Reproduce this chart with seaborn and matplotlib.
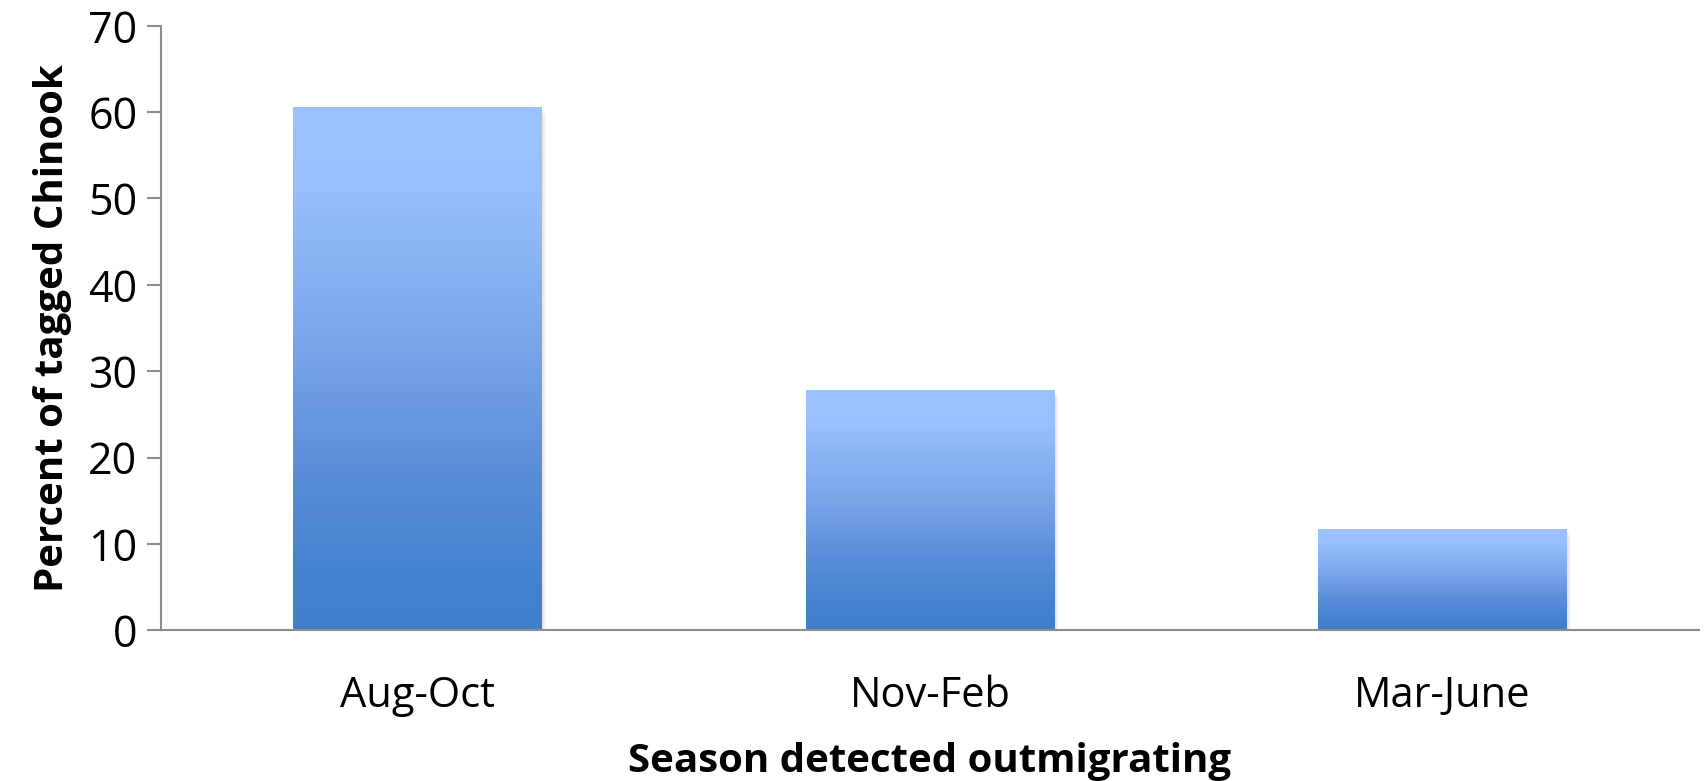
import numpy as np
import pandas as pd
import matplotlib
matplotlib.use("Agg")
import matplotlib.pyplot as plt
import seaborn as sns
from matplotlib.colors import LinearSegmentedColormap

seasons = ["Aug-Oct", "Nov-Feb", "Mar-June"]
percents = [60.6, 27.8, 11.7]
y_ticks = [0, 10, 20, 30, 40, 50, 60, 70]

sns.set_style("white")
plt.rcParams["font.family"] = ["Open Sans", "DejaVu Sans"]

df = pd.DataFrame({"season": seasons, "percent": percents})

fig = plt.figure(figsize=(17.04, 7.81), dpi=100)
ax = fig.add_axes([0.0945, 0.193, 0.9025, 0.774])

sns.barplot(data=df, x="season", y="percent", color="#6a9be0", width=0.485, ax=ax)

# gradient fill for each bar: light blue at top, darker at the base
cmap = LinearSegmentedColormap.from_list(
    "bar",
    [(0.0, "#3f7fce"), (0.08, "#4181cf"), (0.3, "#5a8dd9"),
     (0.55, "#7aa6e9"), (0.85, "#99bffd"), (1.0, "#9cc2ff")])
grad = np.linspace(0, 1, 256).reshape(-1, 1)
for patch in list(ax.patches):
    x0, y0 = patch.get_x(), patch.get_y()
    w, h = patch.get_width(), patch.get_height()
    patch.set_facecolor("none")
    patch.set_edgecolor("none")
    # soft shadow
    for k, a in [(0.006, 0.05), (0.003, 0.06)]:
        ax.bar(x0 + w / 2 + k, h, width=w, bottom=y0 - 0.35 * k / 0.003,
               color="#000000", alpha=a, zorder=1)
    im = ax.imshow(grad, cmap=cmap, aspect="auto", origin="lower",
                   extent=[x0, x0 + w, y0, y0 + h], zorder=2)
    im.set_clip_path(patch)

ax.set_xlim(-0.5, 2.5)
ax.set_ylim(0, 70)
ax.set_yticks(y_ticks)
ax.tick_params(axis="y", labelsize=31, labelcolor="black", length=10, width=1.5,
               color="#8c8c8c", direction="out", left=True, pad=7)
ax.tick_params(axis="x", labelsize=30, labelcolor="black", length=0, pad=32)

for side in ["top", "right"]:
    ax.spines[side].set_visible(False)
for side in ["left", "bottom"]:
    ax.spines[side].set_color("#8c8c8c")
    ax.spines[side].set_linewidth(1.5)
ax.spines["bottom"].set_zorder(5)

ax.set_xlabel("Season detected outmigrating", fontsize=29, fontweight="bold",
              color="black", labelpad=18)
ax.set_ylabel("Percent of tagged Chinook", fontsize=29, fontweight="bold",
              color="black", labelpad=12)

fig.savefig("out.png", dpi=100)
